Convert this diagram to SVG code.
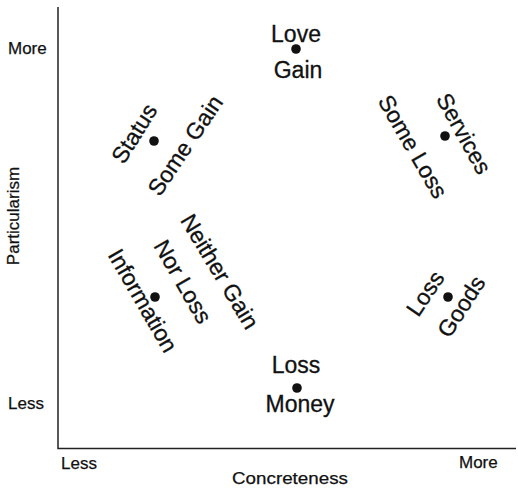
<svg xmlns="http://www.w3.org/2000/svg" width="518" height="490" viewBox="0 0 518 490">
<style>
.ax{font-family:"Liberation Sans",Arial,sans-serif;font-size:17px;fill:#111;stroke:#111;stroke-width:0.25}
.lb{font-family:"Liberation Sans",Arial,sans-serif;font-size:23px;fill:#111;stroke:#111;stroke-width:0.3;text-anchor:middle}
.dot{fill:#111}
.axis{stroke:#222;stroke-width:1.5;fill:none}
</style>
<rect width="518" height="490" fill="#fff"/>
<g id="axes">
<path class="axis" d="M58,7 V448.5 H516"/>
<text class="ax" x="8" y="54">More</text>
<text class="ax" x="8" y="409">Less</text>
<text class="ax" x="61" y="469">Less</text>
<text class="ax" x="459" y="468">More</text>
<text class="ax" x="232" y="484" textLength="116" lengthAdjust="spacingAndGlyphs">Concreteness</text>
<text class="ax" transform="translate(19,216) rotate(-90)" text-anchor="middle" font-size="15">Particularism</text>
</g>
<g id="connectors"></g>
<g id="love">
<circle class="dot" cx="296" cy="49" r="4.8"/>
<text class="lb" x="296" y="42">Love</text>
<text class="lb" x="298" y="78">Gain</text>
</g>
<g id="status">
<circle class="dot" cx="154" cy="141" r="4.8"/>
<text class="lb" transform="translate(135,134) rotate(-58)" y="7">Status</text>
<text class="lb" transform="translate(186,146) rotate(-56)" y="7">Some Gain</text>
</g>
<g id="services">
<circle class="dot" cx="445" cy="136" r="4.8"/>
<text class="lb" transform="translate(463,134) rotate(61)" y="7">Services</text>
<text class="lb" transform="translate(412,147) rotate(60)" y="7">Some Loss</text>
</g>
<g id="information">
<circle class="dot" cx="155" cy="297" r="4.8"/>
<text class="lb" transform="translate(142,301) rotate(60)" y="7">Information</text>
<text class="lb" transform="translate(182,282) rotate(60)" y="7">Nor Loss</text>
<text class="lb" transform="translate(219,272) rotate(59)" y="7">Neither Gain</text>
</g>
<g id="goods">
<circle class="dot" cx="448" cy="297" r="4.8"/>
<text class="lb" transform="translate(426,294) rotate(-56)" y="7">Loss</text>
<text class="lb" transform="translate(462,307) rotate(-57)" y="7">Goods</text>
</g>
<g id="money">
<circle class="dot" cx="297" cy="388" r="4.8"/>
<text class="lb" x="296" y="373">Loss</text>
<text class="lb" x="300" y="412">Money</text>
</g>
</svg>
